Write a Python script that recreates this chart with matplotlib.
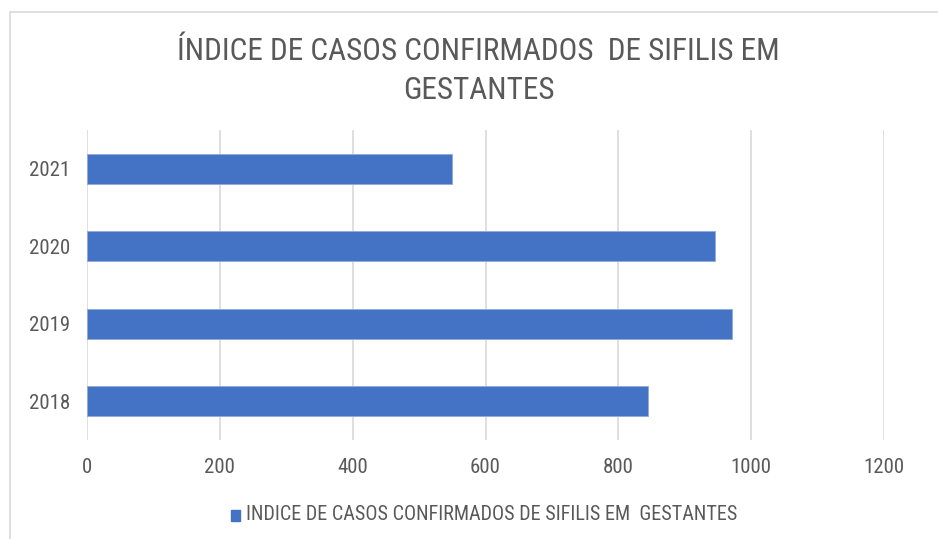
import matplotlib.pyplot as plt
from matplotlib.patches import Rectangle

years = ['2018', '2019', '2020', '2021']
casos = [845, 971, 946, 550]
xticks = [0, 200, 400, 600, 800, 1000, 1200]

titulo = 'ÍNDICE DE CASOS CONFIRMADOS  DE SIFILIS EM\nGESTANTES'
legenda = 'INDICE DE CASOS CONFIRMADOS DE SIFILIS EM  GESTANTES'

fam = ['Liberation Sans Narrow', 'Roboto Condensed', 'Liberation Sans', 'DejaVu Sans']
plt.rcParams['font.family'] = fam
txt = '#595959'
grid = '#d9d9d9'
azul = '#4472c4'

fig = plt.figure(figsize=(9.38, 5.39), dpi=100)
# chart frame (light grey border at top/left)
fig.patches.append(Rectangle((10 / 938, -0.01), 1.0, 1 - 12 / 539 + 0.01,
                             transform=fig.transFigure, fill=False,
                             edgecolor=grid, lw=1.2))

ax = fig.add_axes([87 / 938, 1 - 440 / 539, (884 - 87) / 938, (440 - 130) / 539])
pos = list(range(len(years)))
ax.barh(pos, casos, height=0.39, color=azul, edgecolor='#8faadc', lw=0.6, zorder=3)
ax.set_xlim(0, 1200)
ax.set_ylim(-0.5, len(years) - 0.5)
ax.set_yticks(pos)
ax.set_yticklabels(years)
ax.set_xticks(xticks)
ax.set_xticklabels([str(v) for v in xticks])
ax.grid(axis='x', color=grid, lw=1.2, zorder=0)
for s in ax.spines.values():
    s.set_visible(False)
ax.tick_params(length=0, colors=txt, labelsize=15)
ax.tick_params(axis='x', pad=13)
ax.tick_params(axis='y', pad=12)

fig.text(0.51, 1 - 71 / 539, titulo, ha='center', va='center', color=txt,
         fontsize=22.5, linespacing=1.45)

fig.patches.append(Rectangle((231 / 938, 1 - 521 / 539), 9 / 938, 11 / 539,
                             transform=fig.transFigure, color=azul))
fig.text(246 / 938, 1 - 515 / 539, legenda, ha='left', va='center', color=txt,
         fontsize=14.5)

fig.savefig('out.png', dpi=100)
